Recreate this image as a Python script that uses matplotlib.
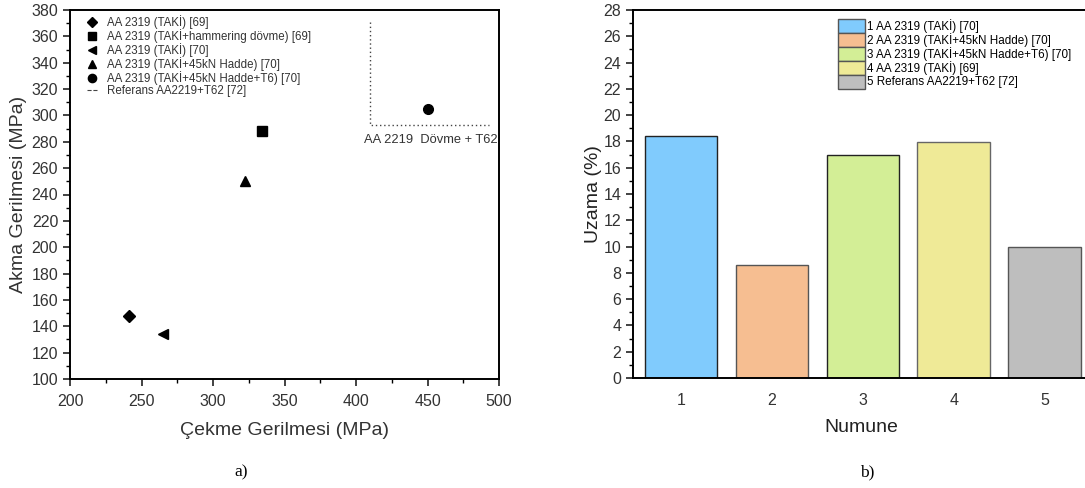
import matplotlib
matplotlib.use("Agg")
import matplotlib.pyplot as plt
from matplotlib.lines import Line2D
from matplotlib.ticker import MultipleLocator

plt.rcParams['font.family'] = ['Liberation Sans', 'DejaVu Sans']

# ---- data: panel a ----
scatter_labels = ["AA 2319 (TAKİ) [69]",
                  "AA 2319 (TAKİ+hammering dövme) [69]",
                  "AA 2319 (TAKİ) [70]",
                  "AA 2319 (TAKİ+45kN Hadde) [70]",
                  "AA 2319 (TAKİ+45kN Hadde+T6) [70]"]
scatter_markers = ["D", "s", "<", "^", "o"]
tensile = [241, 334.5, 265, 322.5, 450]
yield_ = [148, 288.5, 134.5, 250, 304.5]
ref_label = "Referans AA2219+T62 [72]"
ref_x = [410, 410, 493]
ref_y = [371, 292.5, 292.5]
ref_text = "AA 2219  Dövme + T62"

# ---- data: panel b ----
samples = [1, 2, 3, 4, 5]
elongation = [18.4, 8.6, 16.95, 17.95, 9.95]
bar_labels = ["1 AA 2319 (TAKİ) [70]",
              "2 AA 2319 (TAKİ+45kN Hadde) [70]",
              "3 AA 2319 (TAKİ+45kN Hadde+T6) [70]",
              "4 AA 2319 (TAKİ) [69]",
              "5 Referans AA2219+T62 [72]"]
bar_colors = ["#80CBFD", "#F6BE91", "#D3EE96", "#EFEA97", "#BEBEBE"]
bar_edges = ["#222222", "#555555", "#222222", "#666666", "#555555"]

fig = plt.figure(figsize=(10.85, 4.88), dpi=100)
W, H = 1085, 488

def style_axes(ax):
    for s in ax.spines.values():
        s.set_linewidth(1.4)
    ax.tick_params(which='major', direction='out', length=5, width=1.2, labelsize=11.5,
                   color='#222222', labelcolor='#333333')
    ax.tick_params(which='minor', direction='out', length=3, width=1.0)
    ax.tick_params(top=False, right=False, which='both')

# ---- panel a ----
axA = fig.add_axes([70/W, 1-379/H, (499-70)/W, (379-10)/H])
handles = []
for x, y, m, lab in zip(tensile, yield_, scatter_markers, scatter_labels):
    ms = 7 if m != "D" else 6.5
    h, = axA.plot([x], [y], linestyle='none', marker=m, color='black', markersize=ms, label=lab)
    handles.append(h)
axA.plot(ref_x, ref_y, linestyle=(0, (1, 2)), color='#444444', linewidth=1.0)
handles.append(Line2D([], [], linestyle='--', color='#444444', linewidth=0.8, label=ref_label))
axA.text(452, 281, ref_text, ha='center', va='center', fontsize=9.3, color='#333333')
axA.set_xlim(200, 500)
axA.set_ylim(100, 380)
axA.xaxis.set_major_locator(MultipleLocator(50))
axA.xaxis.set_minor_locator(MultipleLocator(25))
axA.yaxis.set_major_locator(MultipleLocator(20))
axA.yaxis.set_minor_locator(MultipleLocator(10))
style_axes(axA)
axA.tick_params(axis='x', which='major', pad=6)
axA.set_xlabel("Çekme Gerilmesi (MPa)", fontsize=14, color='#333333', labelpad=9)
axA.set_ylabel("Akma Gerilmesi (MPa)", fontsize=14, color='#333333', labelpad=3)
leg = axA.legend(handles=handles, loc='upper left', bbox_to_anchor=(0.02, 1.008), frameon=False,
                 fontsize=8.3, handlelength=1.0, handletextpad=0.8, labelspacing=0.0,
                 markerscale=0.85, borderaxespad=0.3)
for t in leg.get_texts():
    t.set_color('#333333')

# ---- panel b ----
axB = fig.add_axes([633/W, 1-378/H, (1090-633)/W, (378-10)/H])
bars = axB.bar(samples, elongation, width=0.8, color=bar_colors, edgecolor=bar_edges, linewidth=1.0)
for b, lab in zip(bars, bar_labels):
    b.set_label(lab)
axB.set_xlim(0.47, 5.5)
axB.set_ylim(0, 28)
axB.set_xticks(samples)
axB.yaxis.set_major_locator(MultipleLocator(2))
axB.yaxis.set_minor_locator(MultipleLocator(1))
style_axes(axB)
axB.tick_params(axis='x', which='major', length=0, pad=11)
axB.spines['right'].set_visible(False)
axB.set_xlabel("Numune", fontsize=14, color='#222222', labelpad=8)
axB.set_ylabel("Uzama (%)", fontsize=14, color='#222222', labelpad=1)
legB = axB.legend(handles=list(bars), loc='upper left', bbox_to_anchor=(0.43, 1.0), frameon=False,
                  fontsize=8.4, handlelength=2.3, handleheight=1.45, handletextpad=0.2,
                  labelspacing=0.0, borderaxespad=0.35)
for p in legB.get_patches():
    p.set_edgecolor('#555555')

fig.text(241/W, 1-472/H, "a)", ha='center', va='center', fontsize=12.5, family='Liberation Serif')
fig.text(867/W, 1-472/H, "b)", ha='center', va='center', fontsize=12.5, family='Liberation Serif')

fig.savefig("out.png", dpi=100)
